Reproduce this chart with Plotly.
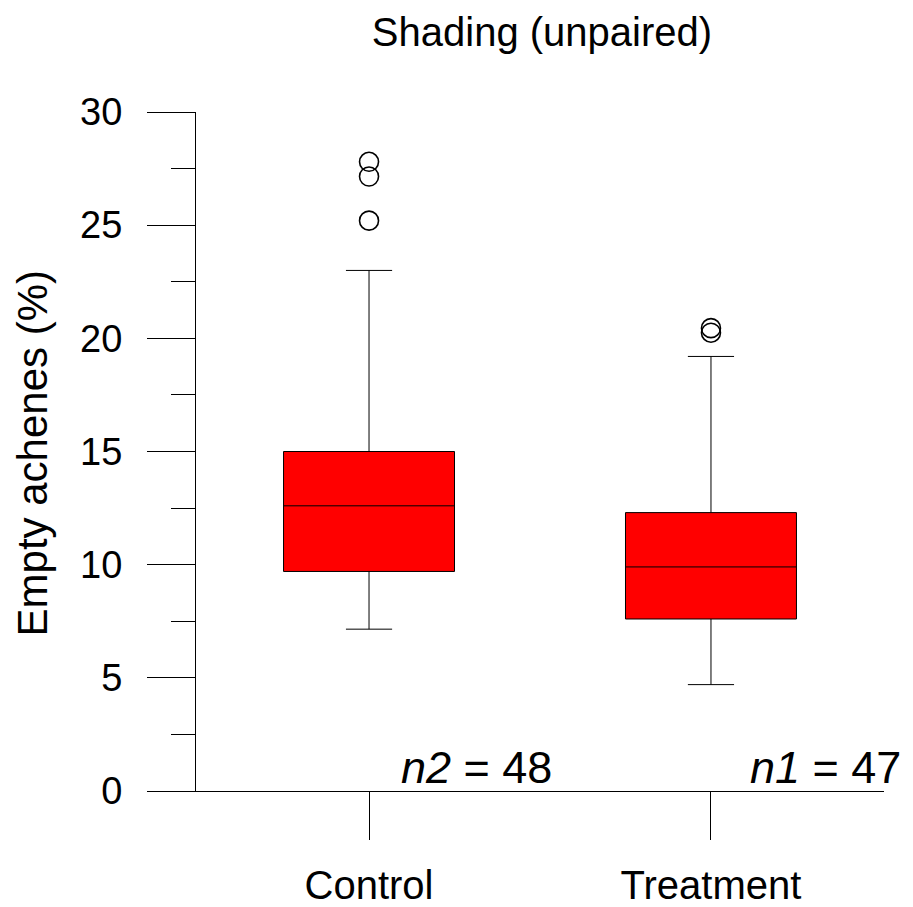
import plotly.graph_objects as go

categories = ["Control", "Treatment"]
q1 = [9.7, 7.6]
median = [12.6, 9.9]
q3 = [15.0, 12.3]
lower_whisker = [7.15, 4.7]
upper_whisker = [23.0, 19.2]
outliers = [[27.8, 27.15, 25.2], [20.45, 20.25]]
n_labels = ["<i>n2</i> = 48", "<i>n1</i> = 47"]
n_label_x = [0.314, 1.336]

FONT = "Liberation Sans, Arial, sans-serif"

fig = go.Figure()
for i, cat in enumerate(categories):
    fig.add_trace(go.Box(
        x=[i], q1=[q1[i]], median=[median[i]], q3=[q3[i]],
        lowerfence=[lower_whisker[i]], upperfence=[upper_whisker[i]],
        width=0.5, whiskerwidth=0.27,
        fillcolor="#FF0000", line=dict(color="black", width=1),
        boxpoints=False, showlegend=False, name=cat,
    ))
    fig.add_trace(go.Scatter(
        x=[i] * len(outliers[i]), y=outliers[i], mode="markers",
        marker=dict(symbol="circle-open", size=19, color="black", line=dict(width=1.6)),
        showlegend=False, hoverinfo="y",
    ))
    fig.add_annotation(x=n_label_x[i], y=1.05, xref="x", yref="y",
                       text=n_labels[i], showarrow=False,
                       xanchor="center", yanchor="middle",
                       font=dict(family=FONT, size=45, color="black"))

# y-axis title as rotated annotation
fig.add_annotation(x=-0.237, y=0.497, xref="paper", yref="paper",
                   text="Empty achenes (%)", textangle=-90, showarrow=False,
                   xanchor="center", yanchor="middle",
                   font=dict(family=FONT, size=42, color="black"))

fig.update_layout(
    width=905, height=899,
    margin=dict(l=188, r=29, t=104, b=116),
    paper_bgcolor="white", plot_bgcolor="white",
    title=dict(text="Shading (unpaired)", x=0.590, xanchor="center",
               y=0.973, yanchor="middle",
               font=dict(family=FONT, size=40, color="black")),
    font=dict(family=FONT, color="black"),
)
fig.update_xaxes(
    range=[-0.506, 1.506], tickvals=[0, 1], ticktext=categories,
    ticks="outside", ticklen=48, tickwidth=1, tickcolor="black",
    showline=True, linecolor="black", linewidth=1,
    showgrid=False, zeroline=False, automargin=False,
    tickfont=dict(family=FONT, size=40, color="black"),
    ticklabelstandoff=11,
)
fig.update_yaxes(
    range=[0, 30], tickvals=[0, 5, 10, 15, 20, 25, 30],
    ticks="outside", ticklen=48, tickwidth=1, tickcolor="black",
    minor=dict(ticks="outside", ticklen=24, dtick=2.5, tickcolor="black", tickwidth=1, showgrid=False),
    showline=True, linecolor="black", linewidth=1,
    showgrid=False, zeroline=False, automargin=False,
    tickfont=dict(family=FONT, size=38, color="black"),
    ticklabelstandoff=17,
)

fig.write_html("out.html")
